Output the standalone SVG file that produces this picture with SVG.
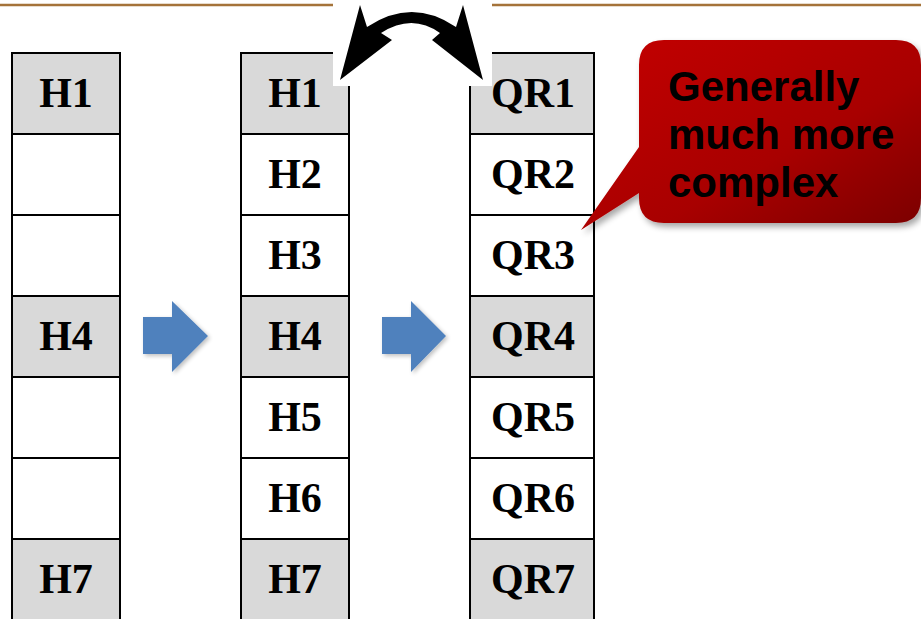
<svg xmlns="http://www.w3.org/2000/svg" width="921" height="619" viewBox="0 0 921 619">
  <style>
    .cell { stroke: #000; stroke-width: 2; }
    .hi { fill: #d9d9d9; }
    .lo { fill: #ffffff; }
    .lbl { font-family: "Liberation Serif", "Times New Roman", serif; font-weight: bold; font-size: 42px; fill: #000; text-anchor: middle; }
    .note { font-family: "Liberation Sans", Arial, sans-serif; font-weight: bold; font-size: 42px; fill: #000; }
    .step { fill: #4f81bd; }
  </style>
  <defs>
    <linearGradient id="redFill" x1="0" y1="0" x2="1" y2="1">
      <stop offset="0" stop-color="#c40000"/>
      <stop offset="0.6" stop-color="#a80000"/>
      <stop offset="1" stop-color="#7a0000"/>
    </linearGradient>
    <filter id="shadow" x="-10%" y="-10%" width="130%" height="140%">
      <feGaussianBlur in="SourceAlpha" stdDeviation="3"/>
      <feOffset dx="3" dy="4" result="b"/>
      <feComponentTransfer><feFuncA type="linear" slope="0.35"/></feComponentTransfer>
      <feMerge><feMergeNode/><feMergeNode in="SourceGraphic"/></feMerge>
    </filter>
    <filter id="softShadow" x="-20%" y="-20%" width="150%" height="150%">
      <feGaussianBlur in="SourceAlpha" stdDeviation="2"/>
      <feOffset dx="2" dy="2" result="b"/>
      <feComponentTransfer><feFuncA type="linear" slope="0.25"/></feComponentTransfer>
      <feMerge><feMergeNode/><feMergeNode in="SourceGraphic"/></feMerge>
    </filter>
  </defs>

  <!-- header rule -->
  <line x1="0" y1="5" x2="921" y2="5" stroke="#a5733a" stroke-width="2.5"/>

  <!-- column 1: sparse headers -->
  <g id="col1">
    <rect class="cell hi" x="12" y="53" width="108" height="81"/>
    <rect class="cell lo" x="12" y="134" width="108" height="81"/>
    <rect class="cell lo" x="12" y="215" width="108" height="81"/>
    <rect class="cell hi" x="12" y="296" width="108" height="81"/>
    <rect class="cell lo" x="12" y="377" width="108" height="81"/>
    <rect class="cell lo" x="12" y="458" width="108" height="81"/>
    <rect class="cell hi" x="12" y="539" width="108" height="81"/>
    <text class="lbl" x="66" y="107">H1</text>
    <text class="lbl" x="66" y="350">H4</text>
    <text class="lbl" x="66" y="593">H7</text>
  </g>

  <!-- column 2: interpolated headers -->
  <g id="col2">
    <rect class="cell hi" x="241" y="53" width="108" height="81"/>
    <rect class="cell lo" x="241" y="134" width="108" height="81"/>
    <rect class="cell lo" x="241" y="215" width="108" height="81"/>
    <rect class="cell hi" x="241" y="296" width="108" height="81"/>
    <rect class="cell lo" x="241" y="377" width="108" height="81"/>
    <rect class="cell lo" x="241" y="458" width="108" height="81"/>
    <rect class="cell hi" x="241" y="539" width="108" height="81"/>
    <text class="lbl" x="295" y="107">H1</text>
    <text class="lbl" x="295" y="188">H2</text>
    <text class="lbl" x="295" y="269">H3</text>
    <text class="lbl" x="295" y="350">H4</text>
    <text class="lbl" x="295" y="431">H5</text>
    <text class="lbl" x="295" y="512">H6</text>
    <text class="lbl" x="295" y="593">H7</text>
  </g>

  <!-- column 3: QR factors -->
  <g id="col3">
    <rect class="cell hi" x="470" y="53" width="124" height="81"/>
    <rect class="cell lo" x="470" y="134" width="124" height="81"/>
    <rect class="cell lo" x="470" y="215" width="124" height="81"/>
    <rect class="cell hi" x="470" y="296" width="124" height="81"/>
    <rect class="cell lo" x="470" y="377" width="124" height="81"/>
    <rect class="cell lo" x="470" y="458" width="124" height="81"/>
    <rect class="cell hi" x="470" y="539" width="124" height="81"/>
    <text class="lbl" x="533" y="107">QR1</text>
    <text class="lbl" x="533" y="188">QR2</text>
    <text class="lbl" x="533" y="269">QR3</text>
    <text class="lbl" x="533" y="350">QR4</text>
    <text class="lbl" x="533" y="431">QR5</text>
    <text class="lbl" x="533" y="512">QR6</text>
    <text class="lbl" x="533" y="593">QR7</text>
  </g>

  <!-- connectors -->
  <g id="connectors">
    <!-- step arrows -->
    <path class="step" filter="url(#softShadow)" d="M143,317 H172 V301 L208,336 L172,372 V354 H143 Z"/>
    <path class="step" filter="url(#softShadow)" d="M382,317 H411 V301 L446,336 L411,372 V354 H382 Z"/>
    <!-- swap arrow on white backing -->
    <rect x="333" y="0" width="159" height="86" fill="#ffffff"/>
    <path fill="#000" d="M340,80 L360,5 L367,27 Q412,-3 456,27 L463,5 L483,80 L432,40 L440,33 Q412,13 381,33 L392,40 Z"/>
  </g>

  <!-- callout -->
  <g id="callout">
    <path filter="url(#shadow)" fill="url(#redFill)" d="M664,40 H896 Q921,40 921,65 V198 Q921,223 896,223 H664 Q639,223 639,198 V193 L581,230 L639,147 V65 Q639,40 664,40 Z"/>
    <text class="note" x="668" y="101">Generally</text>
    <text class="note" x="668" y="149">much more</text>
    <text class="note" x="668" y="197">complex</text>
  </g>
</svg>
